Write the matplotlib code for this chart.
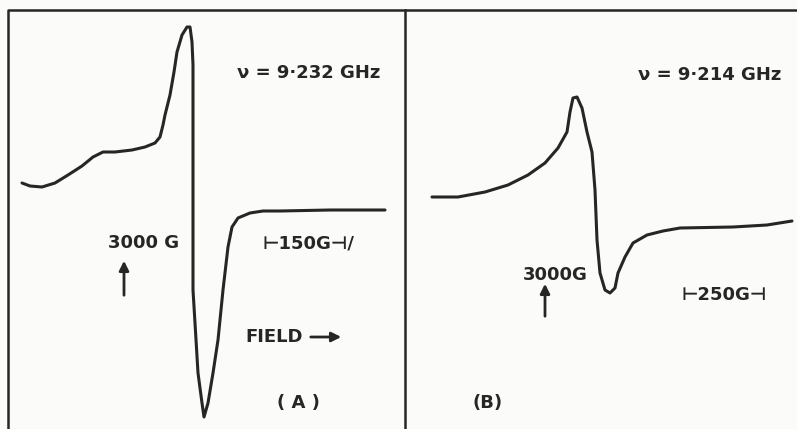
import numpy as np
import matplotlib.pyplot as plt

# EPR derivative traces (field position, signal; y grows downward)
field_a = [22, 30, 42, 55, 68, 82, 93, 103, 115, 132, 145, 155, 160, 163, 165, 170,
           174, 177, 182, 187, 190, 192, 193, 193, 193, 195, 198, 202, 204, 208, 213,
           218, 223, 228, 232, 238, 250, 263, 280, 330, 385]
signal_a = [183, 186, 187, 183, 175, 166, 157, 152, 152, 150, 147, 143, 137, 125, 115, 95,
            72, 52, 35, 27, 27, 42, 65, 155, 290, 323, 373, 403, 417, 403, 373,
            340, 290, 247, 227, 218, 213, 211, 211, 210, 210]

field_b = [432, 458, 485, 508, 528, 545, 558, 567, 570, 573, 577, 582, 587, 592, 595,
           597, 600, 605, 610, 615, 618, 625, 633, 647, 663, 680, 733, 767, 792]
signal_b = [197, 197, 192, 185, 175, 163, 148, 132, 112, 98, 97, 108, 132, 152, 190,
            240, 273, 290, 293, 288, 273, 257, 243, 235, 231, 228, 227, 225, 221]

ink = "#262626"

fig = plt.figure(figsize=(7.97, 4.29), dpi=100)
fig.patch.set_facecolor("#fbfbfa")
ax = fig.add_axes([0, 0, 1, 1])
ax.set_xlim(0, 797)
ax.set_ylim(429, 0)
ax.axis("off")

# frame of the two panels
ax.plot([8, 8, 797], [429, 10, 10], color=ink, lw=1.8)
ax.plot([405, 405], [10, 429], color=ink, lw=1.8)

ax.plot(field_a, signal_a, color=ink, lw=2.2, solid_capstyle="round", solid_joinstyle="round")
ax.plot(field_b, signal_b, color=ink, lw=2.2, solid_capstyle="round", solid_joinstyle="round")

font = dict(color=ink, fontsize=13, fontweight="bold", va="center")

# panel A labels
ax.text(237, 73, "ν = 9·232 GHz", ha="left", **font)
ax.text(108, 243, "3000 G", ha="left", **font)
ax.text(263, 243, "⊢150G⊣/", ha="left", **font)
ax.text(245, 337, "FIELD", ha="left", **font)
ax.text(277, 403, "( A )", ha="left", **font)
ax.annotate("", xy=(124, 258), xytext=(124, 298),
            arrowprops=dict(arrowstyle="-|>", color=ink, lw=2, mutation_scale=14))
ax.annotate("", xy=(344, 337), xytext=(308, 337),
            arrowprops=dict(arrowstyle="-|>", color=ink, lw=2, mutation_scale=14))

# panel B labels
ax.text(638, 75, "ν = 9·214 GHz", ha="left", **font)
ax.text(523, 275, "3000G", ha="left", **font)
ax.text(682, 295, "⊢250G⊣", ha="left", **font)
ax.text(473, 403, "(B)", ha="left", **font)
ax.annotate("", xy=(545, 281), xytext=(545, 319),
            arrowprops=dict(arrowstyle="-|>", color=ink, lw=2, mutation_scale=14))

fig.savefig("out.png", dpi=100, facecolor=fig.get_facecolor())
